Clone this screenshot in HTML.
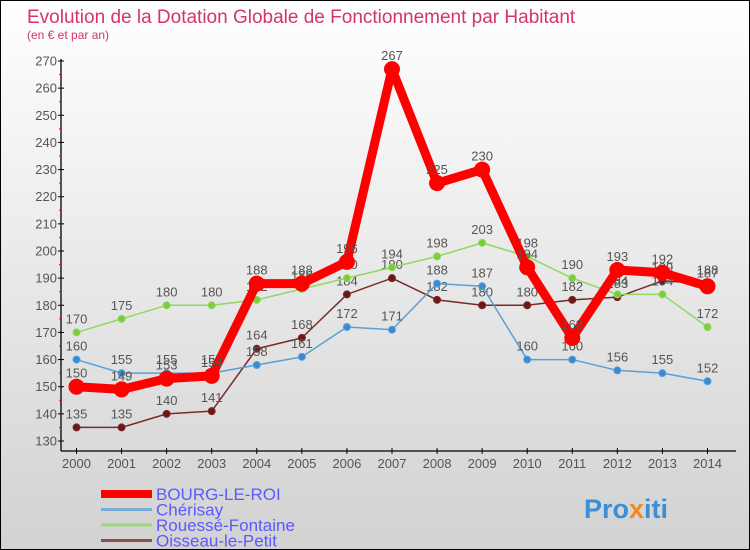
<!DOCTYPE html>
<html><head><meta charset="utf-8"><style>
body{margin:0}
#c{width:750px;height:550px;position:relative;box-sizing:border-box;border:1px solid #000;background:linear-gradient(#fff,#d2d2d2);font-family:"Liberation Sans",sans-serif;overflow:hidden}
</style></head><body>
<div id="c">
<svg id="s" width="750" height="550" style="position:absolute;left:0;top:0">
<text x="26" y="22" font-size="19" fill="#d6336c" font-family="Liberation Sans,sans-serif">Evolution de la Dotation Globale de Fonctionnement par Habitant</text>
<text x="26" y="38" font-size="12" fill="#d6336c" font-family="Liberation Sans,sans-serif">(en € et par an)</text>
<text x="583" y="517" font-size="27" font-weight="bold" fill="#3b8fd6" font-family="Liberation Sans,sans-serif">Pro<tspan fill="#f08a1c">x</tspan>iti</text>
</svg>
</div>
<script>
const years=[2000,2001,2002,2003,2004,2005,2006,2007,2008,2009,2010,2011,2012,2013,2014];
const yTicks=[130,140,150,160,170,180,190,200,210,220,230,240,250,260,270];
const bourg=[150,149,153,154,188,188,196,267,225,230,194,168,193,192,187];
const cherisay=[160,155,155,155,158,161,172,171,188,187,160,160,156,155,152];
const rouesse=[170,175,180,180,182,186,190,194,198,203,198,190,184,184,172];
const oisseau=[135,135,140,141,164,168,184,190,182,180,180,182,183,189,188];
const NS='http://www.w3.org/2000/svg';
const s=document.getElementById('s');
const X=i=>75.5+i*45.07;
const Y=v=>440-(v-130)*(380/140);
function el(t,a,p){const e=document.createElementNS(NS,t);for(const k in a)e.setAttribute(k,a[k]);(p||s).appendChild(e);return e;}
let ax=el('g',{});


el('line',{x1:60,y1:58,x2:60,y2:450,stroke:'#000','stroke-width':1.3},ax);
el('line',{x1:60,y1:450,x2:735,y2:450,stroke:'#000','stroke-width':1.3},ax);
yTicks.forEach(v=>{const y=Y(v);
 el('line',{x1:57,y1:y,x2:63,y2:y,stroke:'#000'},ax);
 if(v<270)el('line',{x1:58,y1:y-13.57,x2:60,y2:y-13.57,stroke:'#f00'},ax);
 const t=el('text',{x:56,y:y+4.5,'text-anchor':'end','font-size':13,fill:'#555'},ax);t.textContent=v;
 });
years.forEach((yr,i)=>{const x=X(i);
 el('line',{x1:x,y1:447,x2:x,y2:453,stroke:'#000'},ax);
 const t=el('text',{x:x,y:467,'text-anchor':'middle','font-size':13,fill:'#555'},ax);t.textContent=yr;
 });
function series(d,name,col,w,r,dot){
 const g=el('g',{});
 
 
 el('polyline',{points:d.map((v,i)=>X(i)+','+Y(v)).join(' '),fill:'none',stroke:col,'stroke-width':w,'stroke-linejoin':'round'},g);
 d.forEach((v,i)=>{const c=el('circle',{cx:X(i),cy:Y(v),r:r,fill:dot,stroke:col,'stroke-width':1},g);
  
  const t=el('text',{x:X(i),y:Y(v)-9,'text-anchor':'middle','font-size':13,fill:'#555'},g);t.textContent=v;
  });
}
series(oisseau,'oisseau','#7a2a2a',1.5,3.5,'#6a1818');
series(rouesse,'rouesse','#90d860',1.5,3.5,'#7ccc3a');
series(cherisay,'cherisay','#5aa0d8',1.5,3.5,'#3a8ad0');
series(bourg,'bourg','#f00',9,7.5,'#f00');
const leg=[['BOURG-LE-ROI','#f00',8],['Chérisay','#7aaed8',3],['Rouessé-Fontaine','#9ad880',3],['Oisseau-le-Petit','#8a5050',3]];
leg.forEach((l,i)=>{const y=493+i*15.5;const g=el('g',{});
 
 el('line',{x1:100,y1:y,x2:151,y2:y,stroke:l[1],'stroke-width':l[2]},g);
 const t=el('text',{x:155,y:y+6,'font-size':17,fill:'#5a5aff','font-family':'Liberation Sans,sans-serif'},g);t.textContent=l[0];});
</script>
</body></html>
